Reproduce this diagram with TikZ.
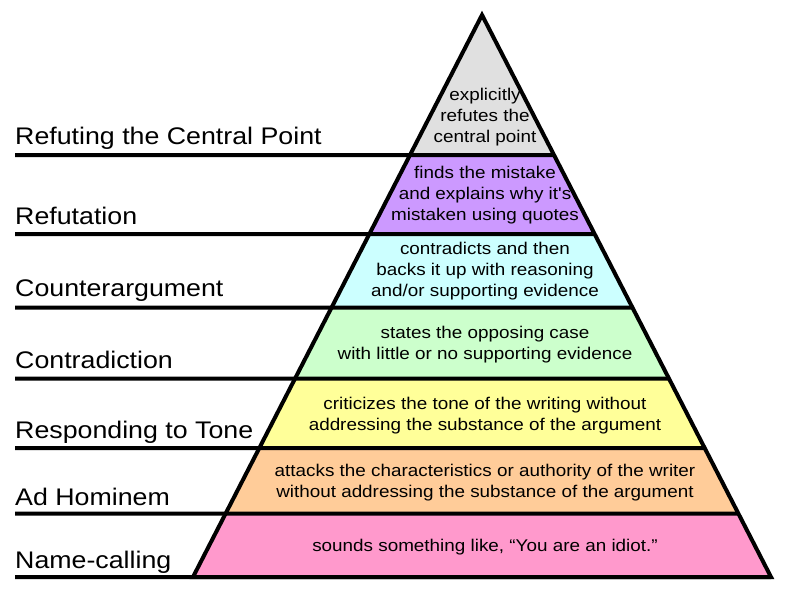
\documentclass[tikz,border=0pt]{standalone}
\usepackage{fontspec}
\setmainfont{Liberation Sans}
\newfontfamily\lblfont{Liberation Sans}[FakeStretch=1.115]
\newfontfamily\stepfont{Liberation Sans}[FakeStretch=1.11]
\usepackage{xcolor}
\usepackage{tikz}
\definecolor{bandgray}{HTML}{E0E0E0}
\definecolor{bandpurple}{HTML}{CC99FF}
\definecolor{bandcyan}{HTML}{CCFFFF}
\definecolor{bandgreen}{HTML}{CCFFCC}
\definecolor{bandyellow}{HTML}{FFFF99}
\definecolor{bandorange}{HTML}{FFCC99}
\definecolor{bandpink}{HTML}{FF99CC}

\begin{document}
\begin{tikzpicture}[x=1pt,y=-1pt,
  lbl/.style={anchor=base west,inner sep=0pt,font=\lblfont\fontsize{24}{28}\selectfont},
  txt/.style={align=center,inner sep=0pt,font=\stepfont\fontsize{17}{21}\selectfont},
  sep/.style={line width=4pt}]
\useasboundingbox (0,0) rectangle (786,589);
\coordinate (apex) at (482,15);
\coordinate (bl) at (193,577);
\coordinate (br) at (771,577);
% coloured bands
\begin{scope}
\clip (apex) -- (bl) -- (br) -- cycle;
\fill[bandgray]   (0,0)     rectangle (786,155);
\fill[bandpurple] (0,155)   rectangle (786,234);
\fill[bandcyan]   (0,234)   rectangle (786,307.5);
\fill[bandgreen]  (0,307.5) rectangle (786,378.5);
\fill[bandyellow] (0,378.5) rectangle (786,448);
\fill[bandorange] (0,448)   rectangle (786,513.5);
\fill[bandpink]   (0,513.5) rectangle (786,577);
\end{scope}
% level lines
\foreach \y in {155,234,307.5,378.5,448,513.5,577}
  \draw[sep] (15,\y) -- (intersection of apex--br and 0,\y--1,\y);
\draw[sep,line join=miter] (apex) -- (bl) -- (br) -- cycle;
% level names
\node (central) at (15,144.7) [lbl] {Refuting the Central Point};
\node (refut) at (15,224.3) [lbl] {Refutation};
\node (counter) at (15,296.7) [lbl] {Counterargument};
\node (contra) at (15,368.3) [lbl] {Contradiction};
\node (tone) at (15,438.3) [lbl] {Responding to Tone};
\node (adhom) at (15,505) [lbl] {Ad Hominem};
\node (names) at (15,568.3) [lbl] {Name-calling};
% descriptions
\node (d1) at (485,117) [txt] {explicitly\\refutes the\\central point};
\node (d2) at (485,194.8) [txt] {finds the mistake\\and explains why it's\\mistaken using quotes};
\node (d3) at (485,271.5) [txt] {contradicts and then\\backs it up with reasoning\\and/or supporting evidence};
\node (d4) at (485,344.8) [txt] {states the opposing case\\with little or no supporting evidence};
\node (d5) at (485,415.3) [txt] {criticizes the tone of the writing without\\addressing the substance of the argument};
\node (d6) at (485,482.8) [txt] {attacks the characteristics or authority of the writer\\without addressing the substance of the argument};
\node (d7) at (485,547.3) [txt] {sounds something like, “You are an idiot.”};
\end{tikzpicture}
\end{document}
